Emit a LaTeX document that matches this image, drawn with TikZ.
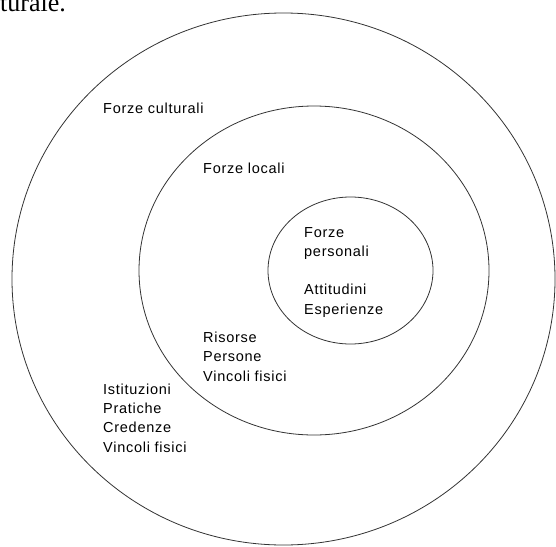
\documentclass[tikz,border=0pt]{standalone}
\usepackage{fontspec}
\setmainfont[LetterSpace=5]{Liberation Sans}
\newfontfamily\pagefont{Liberation Serif}
\usetikzlibrary{shapes.geometric}

\begin{document}
\begin{tikzpicture}[x=1pt,y=-1pt,
    ring/.style={draw=black!80, line width=0.8pt, ellipse, inner sep=0pt},
    forcetext/.style={anchor=base west, align=left, inner sep=0pt, font=\fontsize{14.5}{19.2}\selectfont}]
    \useasboundingbox (0,0) rectangle (556,546);
    \clip (0,0) rectangle (556,546);

    % Bit of the page text cut off above the figure
    \node[anchor=base west, inner sep=0pt, font=\pagefont\fontsize{26}{26}\selectfont] (pagetext) at (0,11) {turale.};

    % Draw the three rings of forces
    \foreach \name/\cx/\cy/\w/\h in {cultural/283.5/279/543/532, local/314/270.5/350/329, personal/350.5/270.5/165/147}
        \node[ring, minimum width=\w, minimum height=\h] (\name) at (\cx,\cy) {};

    % Label the rings (base is the last line)
    \node[forcetext] (culturalname) at (103,113) {Forze culturali};
    \node[forcetext] (localname) at (203,173) {Forze locali};
    \node[forcetext] (personalname) at (304,314) {Forze\\personali\\[19.2pt]Attitudini\\Esperienze};

    % What each ring holds
    \node[forcetext] (localitems) at (203,381) {Risorse\\Persone\\Vincoli fisici};
    \node[forcetext] (culturalitems) at (103,452) {Istituzioni\\Pratiche\\Credenze\\Vincoli fisici};
\end{tikzpicture}
\end{document}
